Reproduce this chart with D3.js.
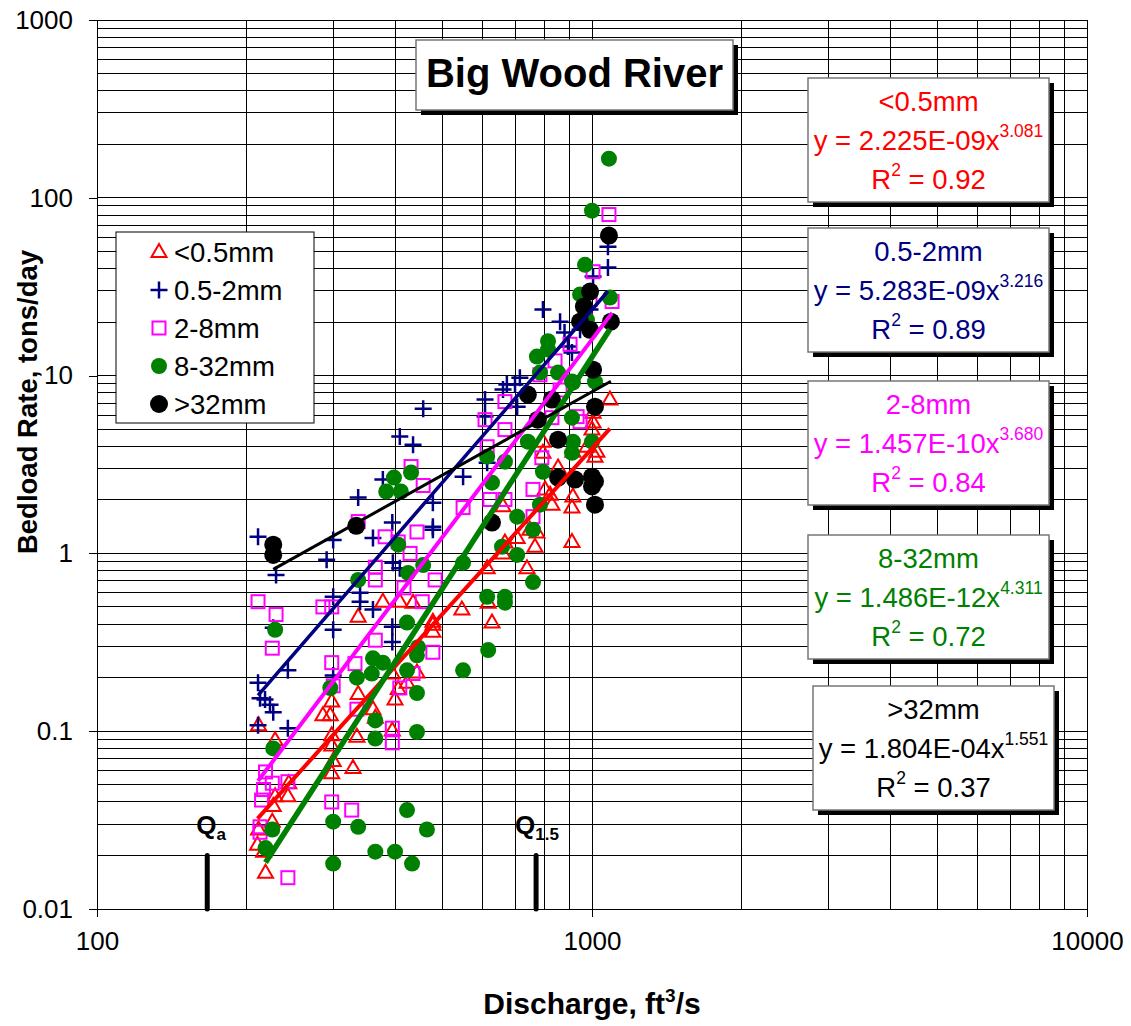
<!DOCTYPE html>
<html>
<head>
<meta charset="utf-8">
<script src="https://cdn.jsdelivr.net/npm/d3@7"></script>
<style>
  body { margin: 0; background: #fff; }
  svg { display: block; font-family: "Liberation Sans", Arial, sans-serif; }
</style>
</head>
<body>
<svg id="chart" width="1131" height="1026"></svg>
<script>
// [discharge ft3/s, bedload tons/day]
const lt05 = [[378,0.535],[337,0.44],[477,0.397],[477,0.362],[298,0.147],[286,0.123],[296,0.123],[337,0.162],[361,0.133],[365,0.119],[395,0.101],[335,0.093],[298,0.095],[298,0.083],[406,0.173],[400,0.151],[443,0.214],[423,0.187],[395,0.211],[229,0.089],[212,0.108],[300,0.068],[298,0.058],[329,0.062],[244,0.051],[243,0.043],[229,0.043],[227,0.038],[226,0.031],[212,0.028],[211,0.023],[217,0.021],[219,0.016],[1087,7.33],[1005,6.19],[1005,5.44],[1000,4.97],[977,3.98],[1023,3.73],[1014,3.5],[915,3.73],[796,4.25],[796,3.68],[854,3.04],[804,2.29],[823,2.14],[830,1.88],[915,2.09],[911,1.81],[911,1.16],[739,0.826],[774,1.31],[767,1.09],[706,1.22],[667,1.15],[661,1.0],[614,0.826],[661,1.84],[617,0.528],[628,0.408],[546,0.483],[477,0.413],[749,1.36],[435,0.528],[409,0.535]];
const s05to2 = [[211.5,1.24],[230,0.757],[300,1.19],[291,0.92],[337,2.06],[378,2.6],[409,4.54],[435,4.09],[456,6.52],[395,1.49],[361,1.22],[477,1.93],[477,1.41],[396,0.885],[409,0.826],[340,0.6],[300,0.57],[211.5,0.187],[213.5,0.153],[218.5,0.151],[223.6,0.141],[227,0.128],[243,0.22],[211.5,0.108],[243,0.104],[300,0.372],[300,0.206],[340,0.535],[361,0.483],[395,0.387],[395,0.317],[227,0.382],[608,7.33],[661,8.34],[699,8.9],[706,6.69],[608,5.88],[477,1.36],[549,2.7],[614,3.24],[1077,53],[1077,40.5],[1005,36.1],[796,23.5],[862,20.1],[894,14.6],[911,13.5],[715,9.74],[673,8.9],[880,17.5],[991,23.5],[946,18.1]];
const s2to8 = [[1082,80.5],[1098,26.1],[1005,38.4],[933,5.88],[830,5.8],[946,5.51],[792,3.45],[760,2.29],[760,1.61],[667,2.01],[622,2.01],[614,3.98],[608,5.65],[667,7.14],[667,4.97],[549,1.81],[482,0.709],[477,0.278],[211.5,0.535],[230,0.453],[286,0.5],[298,0.5],[337,1.51],[365,0.837],[365,0.709],[382,1.24],[406,1.16],[429,1.0],[417,0.64],[431,3.08],[443,1.32],[454,0.535],[456,2.41],[226,0.293],[298,0.243],[332,0.24],[300,0.18],[365,0.325],[395,0.104],[395,0.086],[219,0.059],[217,0.047],[215,0.041],[213.5,0.029],[226,0.051],[243,0.052],[298,0.04],[327,0.036],[243,0.015],[335,0.133],[435,0.211],[409,0.175],[213.5,0.027],[991,26.8],[968,20.6],[903,15.0],[842,12.1],[785,10.1],[862,8.3]];
const s8to32 = [[1082,166],[1000,84.6],[968,42],[946,28.6],[1087,27.5],[815,15.6],[774,12.8],[815,14.0],[785,10.4],[854,10.4],[911,9.25],[977,20.6],[915,9.13],[1014,9.25],[911,5.8],[915,4.25],[911,3.68],[1000,4.25],[742,4.25],[796,2.88],[667,3.28],[614,3.5],[628,2.5],[785,1.88],[706,1.61],[760,1.36],[658,1.09],[706,0.98],[760,0.69],[549,0.885],[614,0.57],[667,0.57],[667,0.528],[617,0.286],[549,0.22],[398,2.67],[431,2.85],[384,2.23],[411,2.23],[406,1.12],[337,0.709],[456,0.86],[425,0.777],[423,0.408],[229,0.372],[445,0.297],[443,0.267],[361,0.257],[378,0.243],[335,0.2],[359,0.211],[296,0.175],[423,0.22],[443,0.164],[365,0.115],[365,0.091],[443,0.099],[227,0.08],[423,0.036],[464,0.028],[300,0.031],[337,0.029],[226,0.028],[219,0.022],[365,0.021],[400,0.021],[300,0.018],[433,0.018]];
const gt32 = [[1082,61.3],[991,29.7],[963,24.5],[1092,20.1],[991,18.1],[946,20.1],[1005,10.8],[742,7.82],[830,7.33],[1014,6.69],[854,4.36],[854,2.67],[924,2.6],[1000,2.7],[1014,2.54],[1000,2.38],[1014,1.88],[628,1.49],[334,1.43],[227,1.12],[227,0.98],[777,5.65]];

const seriesNames = ["<0.5mm", "0.5-2mm", "2-8mm", "8-32mm", ">32mm"];
const seriesColors = ["#ff0000", "#000080", "#ff00ff", "#008000", "#000000"];
const fitA = [2.225e-9, 5.283e-9, 1.457e-10, 1.486e-12, 1.804e-4];
const fitB = [3.081, 3.216, 3.680, 4.311, 1.551];
const fitALabels = ["2.225E-09", "5.283E-09", "1.457E-10", "1.486E-12", "1.804E-04"];
const fitBLabels = ["3.081", "3.216", "3.680", "4.311", "1.551"];
const fitR2 = ["0.92", "0.89", "0.84", "0.72", "0.37"];

const xTickValues = [100, 1000, 10000];
const xTickLabels = ["100", "1000", "10000"];
const yTickValues = [0.01, 0.1, 1, 10, 100, 1000];
const yTickLabels = ["0.01", "0.1", "1", "10", "100", "1000"];

const markerQ = [{ name: "a", q: 167 }, { name: "1.5", q: 771 }];
const markerRange = [0.01, 0.02];

const allSeries = [lt05, s05to2, s2to8, s8to32, gt32];

const svg = d3.select("#chart");
const font = '"Liberation Sans", Arial, sans-serif';
const x = d3.scaleLog().domain([100, 10000]).range([97, 1087]);
const y = d3.scaleLog().domain([0.01, 1000]).range([909, 20]);

// grid
const grid = svg.append("g").attr("shape-rendering", "crispEdges").attr("stroke", "#000").attr("stroke-width", 1);
grid.selectAll("line.v").data(x.ticks()).join("line").attr("class", "v")
  .attr("x1", (d) => x(d)).attr("x2", (d) => x(d)).attr("y1", y(1000)).attr("y2", y(0.01));
grid.selectAll("line.h").data(y.ticks()).join("line").attr("class", "h")
  .attr("x1", x(100)).attr("x2", x(10000)).attr("y1", (d) => y(d)).attr("y2", (d) => y(d));

// axes
const yAxis = svg.append("g").attr("transform", `translate(${x(100)},0)`)
  .call(d3.axisLeft(y).tickValues(yTickValues).tickFormat((d, i) => yTickLabels[i]).tickSize(8).tickPadding(16));
const xAxis = svg.append("g").attr("transform", `translate(0,${y(0.01)})`)
  .call(d3.axisBottom(x).tickValues(xTickValues).tickFormat((d, i) => xTickLabels[i]).tickSize(8).tickPadding(15));
[xAxis, yAxis].forEach((g) => {
  g.select(".domain").remove();
  g.selectAll("line").attr("stroke", "#000").attr("shape-rendering", "crispEdges");
  g.selectAll("text").attr("font-size", 26).attr("font-family", font).attr("fill", "#000");
});

// axis titles
svg.append("text").attr("transform", "translate(37,402) rotate(-90)").attr("text-anchor", "middle")
  .attr("font-size", 27.5).attr("font-weight", "bold").text("Bedload Rate, tons/day");
const xt = svg.append("text").attr("x", 592).attr("y", 1014).attr("text-anchor", "middle")
  .attr("font-size", 30).attr("font-weight", "bold");
xt.append("tspan").text("Discharge, ft");
xt.append("tspan").attr("font-size", 19).attr("dy", -12).text("3");
xt.append("tspan").attr("dy", 12).text("/s");

// Q markers
markerQ.forEach((m, i) => {
  const bx = x(m.q);
  svg.append("line").attr("x1", bx).attr("x2", bx).attr("y1", y(markerRange[0])).attr("y2", y(markerRange[1]))
    .attr("stroke", "#000").attr("stroke-width", 5).attr("stroke-linecap", "round");
  const t = svg.append("text").attr("x", bx - (i === 0 ? 11 : 21)).attr("y", 834)
    .attr("font-size", 26).attr("font-weight", "bold");
  t.append("tspan").text("Q");
  t.append("tspan").attr("font-size", 17).attr("dy", 6).text(m.name);
});

// markers
function drawMarker(g, i, px, py) {
  const c = seriesColors[i];
  if (i === 0) {
    g.append("path").attr("d", `M${px},${py - 8}L${px + 7.5},${py + 5}L${px - 7.5},${py + 5}Z`)
      .attr("fill", "none").attr("stroke", c).attr("stroke-width", 2);
  } else if (i === 1) {
    g.append("path").attr("d", `M${px - 8.5},${py}H${px + 8.5}M${px},${py - 8.5}V${py + 8.5}`)
      .attr("stroke", c).attr("stroke-width", 2.5);
  } else if (i === 2) {
    g.append("rect").attr("x", px - 6.5).attr("y", py - 6.5).attr("width", 13).attr("height", 13)
      .attr("fill", "none").attr("stroke", c).attr("stroke-width", 2);
  } else {
    g.append("circle").attr("cx", px).attr("cy", py).attr("r", i === 3 ? 8 : 9).attr("fill", c);
  }
}
const pts = svg.append("g");
allSeries.forEach((data, i) => {
  const g = pts.append("g");
  data.forEach((d) => drawMarker(g, i, x(d[0]), y(d[1])));
});

// power-law trendlines
const lineGen = d3.line().x((d) => x(d[0])).y((d) => y(d[1]));
const lineWidths = [4, 3.5, 4, 5.5, 3];
allSeries.forEach((data, i) => {
  const [q0, q1] = d3.extent(data, (d) => d[0]);
  const fit = [q0, q1].map((q) => [q, fitA[i] * Math.pow(q, fitB[i])]);
  svg.append("path").datum(fit).attr("d", lineGen).attr("fill", "none")
    .attr("stroke", seriesColors[i]).attr("stroke-width", lineWidths[i]);
});

// boxes with shadow
function shadowBox(x0, y0, w, h) {
  svg.append("rect").attr("x", x0 + 5).attr("y", y0 + 5).attr("width", w).attr("height", h).attr("fill", "#000");
  svg.append("rect").attr("x", x0).attr("y", y0).attr("width", w).attr("height", h)
    .attr("fill", "#fff").attr("stroke", "#777").attr("stroke-width", 1.5);
}

// title
shadowBox(416, 40, 317, 70);
svg.append("text").attr("x", 574.5).attr("y", 87).attr("text-anchor", "middle")
  .attr("font-size", 40).attr("font-weight", "bold").text("Big Wood River");

// legend
const lg = svg.append("g");
lg.append("rect").attr("x", 116).attr("y", 232).attr("width", 198).attr("height", 191)
  .attr("fill", "#fff").attr("stroke", "#000").attr("stroke-width", 1);
seriesNames.forEach((name, i) => {
  const ly = 252 + i * 38;
  drawMarker(lg, i, 159, ly);
  lg.append("text").attr("x", 174).attr("y", ly + 10).attr("font-size", 27.5).text(name);
});

// equation boxes
const boxTops = [78, 228, 381, 535, 686];
const boxLefts = [808, 808, 808, 808, 813];
seriesNames.forEach((name, i) => {
  const bx = boxLefts[i], by = boxTops[i], bw = 241;
  shadowBox(bx, by, bw, 124);
  const cx = bx + bw / 2;
  const g = svg.append("g").attr("fill", seriesColors[i]).attr("font-size", 27.5).attr("text-anchor", "middle");
  g.append("text").attr("x", cx).attr("y", by + 33).text(name);
  const eq = g.append("text").attr("x", cx).attr("y", by + 72);
  eq.append("tspan").text(`y = ${fitALabels[i]}x`);
  eq.append("tspan").attr("font-size", 17.5).attr("dy", -13).text(fitBLabels[i]);
  const r2 = g.append("text").attr("x", cx).attr("y", by + 111);
  r2.append("tspan").text("R");
  r2.append("tspan").attr("font-size", 17.5).attr("dy", -13).text("2");
  r2.append("tspan").attr("dy", 13).text(` = ${fitR2[i]}`);
});
</script>
</body>
</html>
